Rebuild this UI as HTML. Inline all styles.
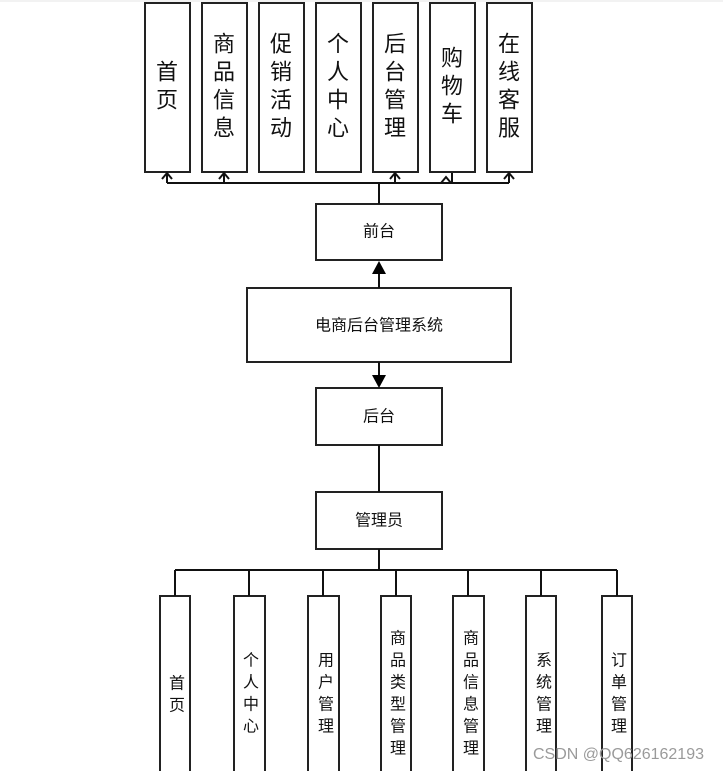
<!DOCTYPE html>
<html><head><meta charset="utf-8"><style>
html,body{margin:0;padding:0;background:#fff;}
svg{display:block;}
text{font-family:"Liberation Sans","Noto Sans CJK SC",sans-serif;fill:#111;}
</style></head><body>
<svg width="723" height="771" viewBox="0 0 723 771" xmlns="http://www.w3.org/2000/svg">
<rect x="0" y="0" width="723" height="2" fill="#f2f2f2"/>
<g fill="#fff" stroke="#222" stroke-width="2">
<rect x="145" y="3" width="45" height="169"/>
<rect x="202" y="3" width="45" height="169"/>
<rect x="259" y="3" width="45" height="169"/>
<rect x="316" y="3" width="45" height="169"/>
<rect x="373" y="3" width="45" height="169"/>
<rect x="430" y="3" width="45" height="169"/>
<rect x="487" y="3" width="45" height="169"/>
<rect x="316" y="204" width="126" height="56"/>
<rect x="247" y="288" width="264" height="74"/>
<rect x="316" y="388" width="126" height="57"/>
<rect x="316" y="492" width="126" height="57"/>
<rect x="160" y="596" width="30" height="180"/>
<rect x="234" y="596" width="31" height="180"/>
<rect x="308" y="596" width="31" height="180"/>
<rect x="381" y="596" width="30" height="180"/>
<rect x="453" y="596" width="31" height="180"/>
<rect x="526" y="596" width="30" height="180"/>
<rect x="602" y="596" width="30" height="180"/>
</g>
<g stroke="#111" stroke-width="2" fill="none">
<path d="M167 183 H509"/>
<path d="M379 183 V204"/>
<path d="M167 183 V173 M224 183 V173 M395 183 V173 M452 183 V173 M509 183 V173"/>
<path d="M162 179 L167 173 L172 179 M219 179 L224 173 L229 179 M390 179 L395 173 L400 179 M441 183 L446 177 L451 183 M504 179 L509 173 L514 179"/>
<path d="M379 288 V272"/>
<path d="M379 362 V376"/>
<path d="M379 445 V492"/>
<path d="M379 549 V570"/>
<path d="M175 570 H617"/>
<path d="M175 570 V596 M249 570 V596 M323 570 V596 M396 570 V596 M468 570 V596 M541 570 V596 M617 570 V596"/>
</g>
<path d="M372 274 L379 261 L386 274 Z" fill="#000"/>
<path d="M372 375 L379 388 L386 375 Z" fill="#000"/>
<g font-size="22" text-anchor="middle" dominant-baseline="central">
<text x="167" y="72">首</text><text x="167" y="100">页</text>
<text x="224" y="44">商</text><text x="224" y="72">品</text><text x="224" y="100">信</text><text x="224" y="128">息</text>
<text x="281" y="44">促</text><text x="281" y="72">销</text><text x="281" y="100">活</text><text x="281" y="128">动</text>
<text x="338" y="44">个</text><text x="338" y="72">人</text><text x="338" y="100">中</text><text x="338" y="128">心</text>
<text x="395" y="44">后</text><text x="395" y="72">台</text><text x="395" y="100">管</text><text x="395" y="128">理</text>
<text x="452" y="58">购</text><text x="452" y="86">物</text><text x="452" y="114">车</text>
<text x="509" y="44">在</text><text x="509" y="72">线</text><text x="509" y="100">客</text><text x="509" y="128">服</text>
</g>
<g font-size="16" text-anchor="middle" dominant-baseline="central">
<text x="379" y="232">前台</text>
<text x="379" y="326">电商后台管理系统</text>
<text x="379" y="417">后台</text>
<text x="379" y="521">管理员</text>
</g>
<g font-size="16" text-anchor="middle" dominant-baseline="central">
<text x="177" y="684">首</text><text x="177" y="706">页</text>
<text x="251" y="661">个</text><text x="251" y="683">人</text><text x="251" y="705">中</text><text x="251" y="727">心</text>
<text x="326" y="661">用</text><text x="326" y="683">户</text><text x="326" y="705">管</text><text x="326" y="727">理</text>
<text x="398" y="639">商</text><text x="398" y="661">品</text><text x="398" y="683">类</text><text x="398" y="705">型</text><text x="398" y="727">管</text><text x="398" y="749">理</text>
<text x="471" y="639">商</text><text x="471" y="661">品</text><text x="471" y="683">信</text><text x="471" y="705">息</text><text x="471" y="727">管</text><text x="471" y="749">理</text>
<text x="544" y="661">系</text><text x="544" y="683">统</text><text x="544" y="705">管</text><text x="544" y="727">理</text>
<text x="619" y="661">订</text><text x="619" y="683">单</text><text x="619" y="705">管</text><text x="619" y="727">理</text>
</g>
<text x="533" y="759" font-size="16" fill="#999" style="fill:#9a9a9a">CSDN @QQ626162193</text>
</svg>
</body></html>
